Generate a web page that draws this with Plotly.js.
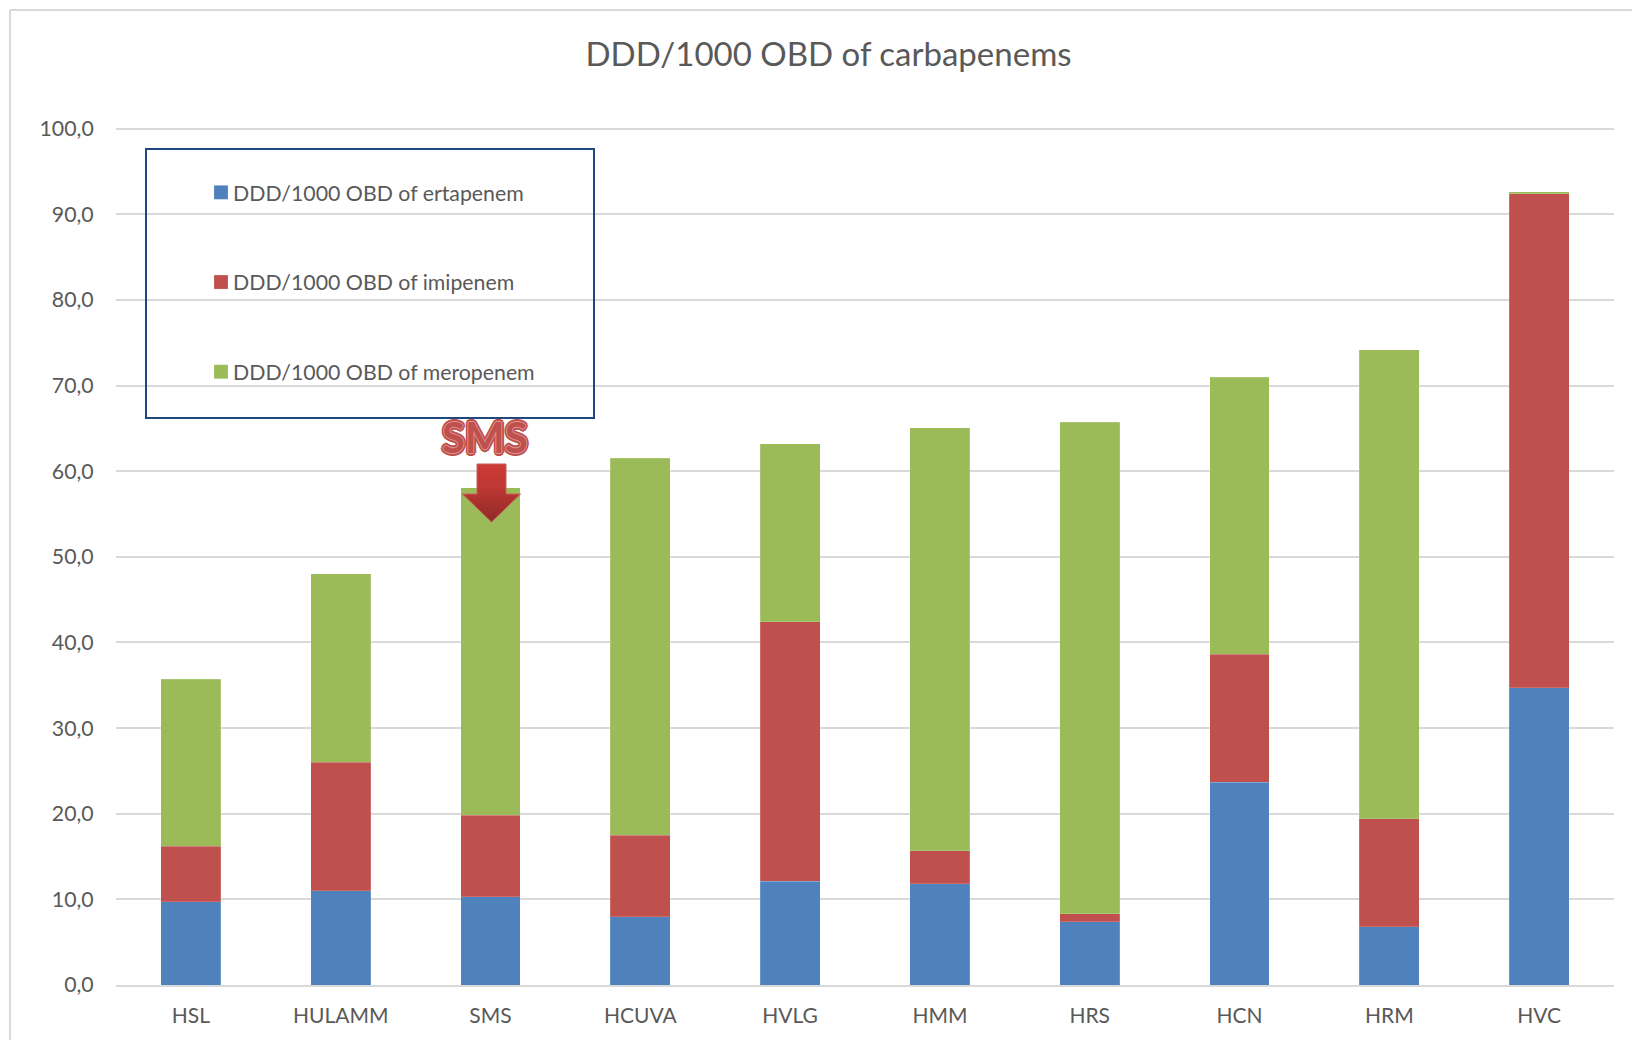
<!DOCTYPE html>
<html>
<head>
<meta charset="utf-8">
<script src="https://cdn.plot.ly/plotly-3.0.1.min.js"></script>
<style>html,body{margin:0;padding:0;background:#fff}#c{width:1632px;height:1040px}</style>
</head>
<body>
<div id="c"></div>
<script>
const hospitals = ["HSL","HULAMM","SMS","HCUVA","HVLG","HMM","HRS","HCN","HRM","HVC"];
const ertapenem = [9.7,11.0,10.3,8.0,12.1,11.8,7.4,23.7,6.8,34.7];
const imipenem  = [6.5,15.0,9.5,9.5,30.3,3.9,0.9,14.9,12.6,57.7];
const meropenem = [19.5,22.0,38.3,44.0,20.8,49.4,57.4,32.4,54.8,0.25];
const seriesNames = ["DDD/1000 OBD of ertapenem","DDD/1000 OBD of imipenem","DDD/1000 OBD of meropenem"];
const seriesColors = ["#4F81BD","#C0504D","#9BBB59"];
const yTicks = [0,10,20,30,40,50,60,70,80,90,100];

const FONT = "Lato, Carlito, sans-serif";
const TEXT = "#595959";
const W = 1632, H = 1040;
const mL = 116, mR = 18, mT = 127, mB = 55;
const pw = W - mL - mR, ph = H - mT - mB;
const fx = v => (v - mL) / pw, fy = v => (H - mB - v) / ph;

const traces = [ertapenem, imipenem, meropenem].map((vals, i) => ({
  type: "bar", name: seriesNames[i], x: hospitals, y: vals,
  legendgroup: "g" + i,
  marker: {color: seriesColors[i], line: {color: "rgba(255,255,255,0.2)", width: 0.8}}
}));

const arrowSvg = '<svg xmlns="http://www.w3.org/2000/svg" width="60" height="60" viewBox="0 0 60 60">' +
  '<defs><linearGradient id="g" x1="0" y1="0" x2="0" y2="1"><stop offset="0" stop-color="#CC3A36"/><stop offset="0.4" stop-color="#BF3733"/><stop offset="1" stop-color="#8E2A28"/></linearGradient></defs>' +
  '<path d="M15.5 1H44.5V31H59L30 59L1 31H15.5Z" fill="url(#g)" stroke="#C8605C" stroke-width="1"/></svg>';

const light = "#DB9593", red = "#C0504D";
const ring = (r, c) => [[r,0],[-r,0],[0,r],[0,-r],[r*.7,r*.7],[-r*.7,r*.7],[r*.7,-r*.7],[-r*.7,-r*.7]]
  .map(([a,b]) => a + "px " + b + "px " + c).join(", ");

const layout = {
  width: W, height: H, autosize: false,
  paper_bgcolor: "#fff", plot_bgcolor: "rgba(0,0,0,0)",
  separators: ", ",
  barmode: "stack", bargap: 0.6,
  margin: {l: mL, r: mR, t: mT, b: mB, pad: 0},
  font: {family: FONT, color: TEXT},
  title: {
    text: "DDD/1000 OBD of carbapenems",
    font: {family: FONT, size: 33, color: TEXT},
    xref: "paper", yref: "container",
    x: fx(828.5), xanchor: "center",
    y: 1 - 54 / H, yanchor: "middle"
  },
  xaxis: {
    type: "category", range: [-0.5, 9.5], fixedrange: true,
    showgrid: false, zeroline: false,
    showline: true, linecolor: "#d9d9d9", linewidth: 2,
    ticks: "outside", ticklen: 11, tickcolor: "rgba(0,0,0,0)",
    tickfont: {family: FONT, size: 21, color: TEXT}
  },
  yaxis: {
    range: [0, 100.2], fixedrange: true,
    tickmode: "array", tickvals: yTicks, tickformat: ".1f",
    gridcolor: "#d9d9d9", gridwidth: 2, zeroline: false, showline: false,
    ticks: "outside", ticklen: 17, tickcolor: "rgba(0,0,0,0)",
    tickfont: {family: FONT, size: 21.3, color: TEXT}
  },
  legend: {
    x: fx(201), y: fy(172), xanchor: "left", yanchor: "top",
    orientation: "v", traceorder: "grouped", tracegroupgap: 59,
    bgcolor: "rgba(0,0,0,0)", borderwidth: 0,
    font: {family: FONT, size: 21.3, color: TEXT}
  },
  shapes: [
    {type:"rect", xref:"paper", yref:"paper", x0:fx(146), x1:fx(594), y0:fy(149), y1:fy(418),
     line:{color:"#1F497D", width:2}, fillcolor:"rgba(0,0,0,0)"},
    {type:"line", xref:"paper", yref:"paper", x0:fx(10), x1:fx(1632), y0:fy(10), y1:fy(10), line:{color:"#d9d9d9", width:2}},
    {type:"line", xref:"paper", yref:"paper", x0:fx(10), x1:fx(10), y0:fy(10), y1:fy(1040), line:{color:"#d9d9d9", width:2}}
  ],
  images: [{
    source: "data:image/svg+xml;utf8," + encodeURIComponent(arrowSvg),
    xref:"paper", yref:"paper", x:fx(461.5), y:fy(463), sizex:60/pw, sizey:60/ph,
    xanchor:"left", yanchor:"top", sizing:"stretch", layer:"above"
  }],
  annotations: [{
    text: "<b>SMS</b>", xref:"paper", yref:"paper", x:fx(485), y:fy(437),
    xanchor:"center", yanchor:"middle", showarrow:false,
    font:{family:FONT, size:42, color:red,
      shadow: ring(0.7, light) + ", " + ring(2.6, red)}
  }]
};

Plotly.newPlot("c", traces, layout, {displayModeBar:false, staticPlot:true}).then(() => {
  // legend swatches are 14px squares with the label close beside them, as in the reference
  document.querySelectorAll("#c .legend .legendpoints path").forEach(p => p.setAttribute("d", "M7,7H-7V-7H7Z"));
  document.querySelectorAll("#c .legend .legendtext").forEach(t => t.setAttribute("x", 32));
});
</script>
</body>
</html>
